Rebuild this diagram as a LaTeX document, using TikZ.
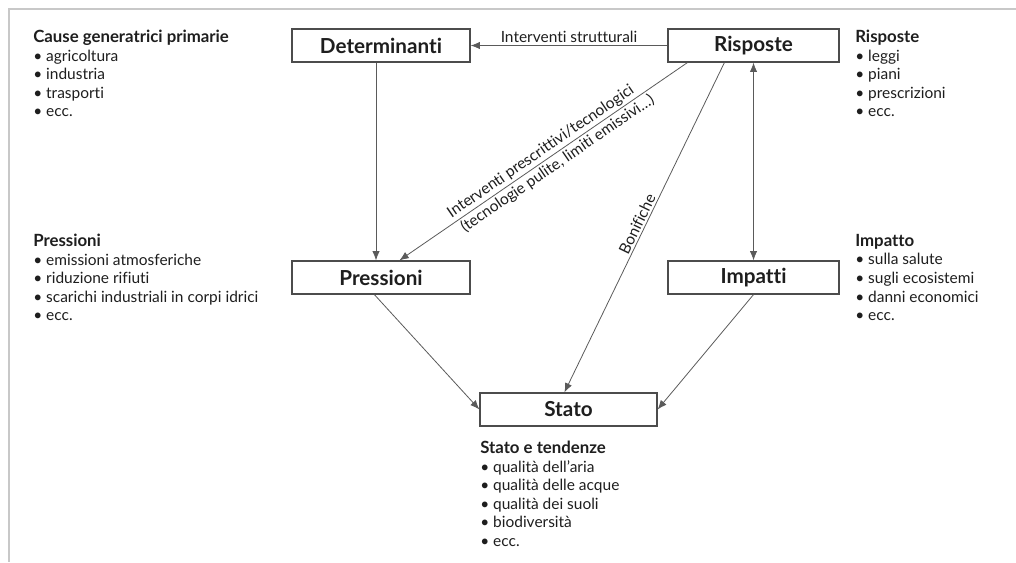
\documentclass[tikz,border=0pt]{standalone}
\usepackage{fontspec}
\setmainfont{Lato}[Ligatures={NoCommon}]
\usetikzlibrary{arrows.meta,calc}
\definecolor{txt}{HTML}{1E1E1E}
\definecolor{ln}{HTML}{5A5A5A}
\definecolor{frm}{HTML}{C8C8C8}
\newcommand{\ttl}[1]{{\fontsize{12.6}{13.9}\selectfont\bfseries #1}}
\tikzset{
  box/.style={draw=ln!85!black,line width=0.9pt,fill=white,inner sep=0pt,
    minimum height=24.75pt,font=\fontsize{15.5}{17}\selectfont\bfseries,text=txt},
  wide/.style={minimum width=133.5pt},
  narrow/.style={minimum width=128.25pt},
  info/.style={anchor=north west,inner sep=0pt,align=left,text=txt,
    font=\fontsize{11.6}{13.9}\selectfont},
  conn/.style={draw=ln,line width=0.6pt,-{Latex[length=7pt,width=5.5pt]}},
  lab/.style={font=\fontsize{11.6}{13}\selectfont,text=txt,inner sep=1.5pt},
}
\begin{document}
\begin{tikzpicture}[x=0.75pt,y=-0.75pt]
\useasboundingbox (0,0) rectangle (1016,562);
\draw[frm,line width=1.1pt] (1016,9) -- (9,9) -- (9,562);

\node[box,wide]   (det) at (381,45.5)   {Determinanti};
\node[box,narrow] (ris) at (753.5,45.5) {Risposte};
\node[box,wide]   (pre) at (381,277.5)  {Pressioni};
\node[box,narrow] (imp) at (753.5,277.5){Impatti};
\node[box,minimum width=132.75pt] (sta) at (568.5,409.5) {Stato};

\node[info] (tcause) at (33,30) {\ttl{Cause generatrici primarie}\\
  • agricoltura\\ • industria\\ • trasporti\\ • ecc.};
\node[info] (trisp) at (855,30) {\ttl{Risposte}\\
  • leggi\\ • piani\\ • prescrizioni\\ • ecc.};
\node[info] (tpress) at (33,234) {\ttl{Pressioni}\\
  • emissioni atmosferiche\\ • riduzione rifiuti\\
  • scarichi industriali in corpi idrici\\ • ecc.};
\node[info] (timp) at (855,234) {\ttl{Impatto}\\
  • sulla salute\\ • sugli ecosistemi\\ • danni economici\\ • ecc.};
\node[info] (tstato) at (480,441) {\ttl{Stato e tendenze}\\
  • qualità dell’aria\\ • qualità delle acque\\ • qualità dei suoli\\
  • biodiversità\\ • ecc.};

\draw[conn] (ris.west) -- node[lab,above] {Interventi strutturali} (det.east);
\draw[conn] ($(det.south)+(-5,0)$) -- ($(pre.north)+(-5,0)$);
\draw[conn] ($(ris.south west)+(20,0)$) --
  node[lab,sloped,above,pos=0.49] {Interventi prescrittivi/tecnologici}
  node[lab,sloped,below,pos=0.47] {(tecnologie pulite, limiti emissivi…)}
  ($(pre.north west)+(108,0)$);
\draw[conn] ($(ris.south west)+(57,0)$) --
  node[lab,sloped,above,pos=0.5] {Bonifiche}
  ($(sta.north west)+(85,0)$);
\draw[draw=ln,line width=0.6pt,{Latex[length=7pt,width=5.5pt]}-{Latex[length=7pt,width=5.5pt]}] (ris.south) -- (imp.north);
\draw[conn] ($(pre.south west)+(83,0)$) -- (sta.west);
\draw[conn] (imp.south) -- (sta.east);
\end{tikzpicture}
\end{document}
